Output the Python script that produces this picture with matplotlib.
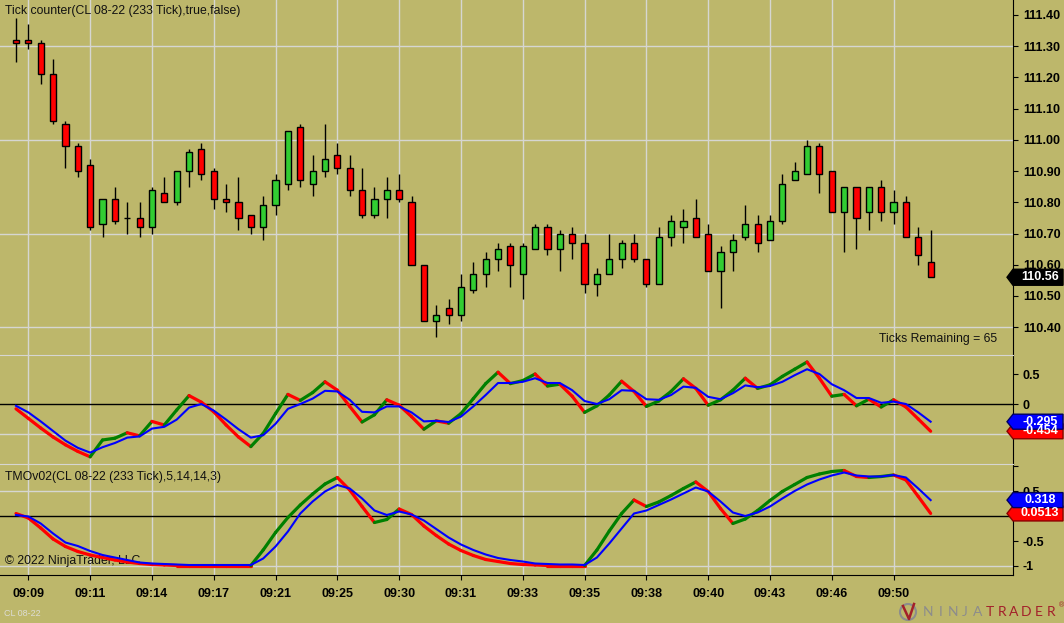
import numpy as np
import matplotlib
matplotlib.use('Agg')
import matplotlib.pyplot as plt
from matplotlib.patches import Polygon, Ellipse
from matplotlib.lines import Line2D

plt.rcParams['font.family'] = ['Liberation Sans', 'DejaVu Sans']

# +++ data +++

opens  = [111.32, 111.32, 111.31, 111.21, 111.05, 110.98, 110.92, 110.73, 110.81, 110.75,
          110.75, 110.72, 110.83, 110.80, 110.90, 110.97, 110.90, 110.81, 110.80, 110.76,
          110.72, 110.79, 110.86, 111.04, 110.86, 110.90, 110.95, 110.91, 110.84, 110.76,
          110.81, 110.84, 110.80, 110.60, 110.42, 110.46, 110.44, 110.52, 110.57, 110.62,
          110.66, 110.57, 110.65, 110.72, 110.65, 110.70, 110.67, 110.54, 110.57, 110.62,
          110.67, 110.62, 110.54, 110.69, 110.72, 110.75, 110.70, 110.58, 110.64, 110.69,
          110.73, 110.68, 110.74, 110.87, 110.89, 110.98, 110.90, 110.77, 110.85, 110.77,
          110.85, 110.77, 110.80, 110.69, 110.61]
closes = [111.31, 111.31, 111.21, 111.06, 110.98, 110.90, 110.72, 110.81, 110.74, 110.75,
          110.72, 110.84, 110.80, 110.90, 110.96, 110.89, 110.81, 110.80, 110.75, 110.72,
          110.79, 110.87, 111.03, 110.87, 110.90, 110.94, 110.91, 110.84, 110.76, 110.81,
          110.84, 110.81, 110.60, 110.42, 110.44, 110.44, 110.53, 110.57, 110.62, 110.65,
          110.60, 110.66, 110.72, 110.65, 110.70, 110.67, 110.54, 110.57, 110.62, 110.67,
          110.62, 110.54, 110.69, 110.74, 110.74, 110.69, 110.58, 110.64, 110.68, 110.73,
          110.67, 110.74, 110.86, 110.90, 110.98, 110.89, 110.77, 110.85, 110.75, 110.85,
          110.77, 110.80, 110.69, 110.63, 110.56]
highs  = [111.39, 111.37, 111.32, 111.26, 111.06, 110.99, 110.94, 110.81, 110.85, 110.80,
          110.80, 110.85, 110.88, 110.90, 110.97, 110.99, 110.91, 110.86, 110.88, 110.76,
          110.82, 110.89, 111.03, 111.05, 110.95, 111.05, 110.99, 110.95, 110.91, 110.85,
          110.88, 110.89, 110.82, 110.60, 110.47, 110.49, 110.57, 110.61, 110.64, 110.67,
          110.67, 110.67, 110.73, 110.73, 110.71, 110.72, 110.70, 110.59, 110.70, 110.68,
          110.70, 110.62, 110.72, 110.76, 110.78, 110.81, 110.73, 110.66, 110.70, 110.79,
          110.76, 110.76, 110.89, 110.93, 111.00, 110.99, 110.90, 110.85, 110.85, 110.85,
          110.87, 110.84, 110.82, 110.72, 110.71]
lows   = [111.25, 111.29, 111.18, 111.05, 110.91, 110.88, 110.71, 110.69, 110.73, 110.70,
          110.69, 110.70, 110.80, 110.79, 110.85, 110.87, 110.78, 110.77, 110.71, 110.70,
          110.68, 110.76, 110.84, 110.85, 110.82, 110.88, 110.89, 110.82, 110.75, 110.75,
          110.75, 110.80, 110.60, 110.42, 110.37, 110.41, 110.42, 110.51, 110.53, 110.58,
          110.53, 110.49, 110.65, 110.63, 110.58, 110.62, 110.51, 110.50, 110.57, 110.59,
          110.61, 110.53, 110.54, 110.66, 110.67, 110.69, 110.58, 110.46, 110.58, 110.68,
          110.64, 110.68, 110.73, 110.87, 110.89, 110.83, 110.77, 110.64, 110.65, 110.71,
          110.74, 110.73, 110.69, 110.60, 110.56]

tmo1Main   = [-0.08, -0.24, -0.40, -0.55, -0.68, -0.79, -0.88, -0.60, -0.57, -0.48,
              -0.53, -0.29, -0.35, -0.10, 0.14, 0.03, -0.13, -0.35, -0.55, -0.71,
              -0.49, -0.16, 0.16, 0.06, 0.19, 0.37, 0.23, -0.04, -0.30, -0.18,
              0.07, -0.02, -0.21, -0.42, -0.28, -0.32, -0.16, 0.09, 0.34, 0.53,
              0.34, 0.39, 0.50, 0.30, 0.33, 0.13, -0.14, -0.03, 0.15, 0.38,
              0.21, -0.04, 0.05, 0.21, 0.42, 0.26, -0.02, 0.07, 0.23, 0.43,
              0.26, 0.32, 0.46, 0.58, 0.70, 0.43, 0.13, 0.16, -0.03, 0.08,
              -0.05, 0.07, -0.05, -0.25, -0.454]
tmo1Signal = [-0.03, -0.14, -0.29, -0.45, -0.61, -0.73, -0.81, -0.72, -0.65, -0.56,
              -0.54, -0.41, -0.38, -0.26, -0.06, 0.00, -0.11, -0.26, -0.42, -0.56,
              -0.52, -0.33, -0.08, 0.00, 0.09, 0.22, 0.21, 0.07, -0.13, -0.14,
              -0.04, -0.04, -0.14, -0.29, -0.28, -0.30, -0.21, -0.04, 0.15, 0.35,
              0.35, 0.37, 0.43, 0.35, 0.35, 0.23, 0.05, 0.00, 0.08, 0.23,
              0.22, 0.08, 0.07, 0.15, 0.29, 0.27, 0.12, 0.08, 0.18, 0.31,
              0.28, 0.30, 0.37, 0.48, 0.58, 0.50, 0.33, 0.23, 0.10, 0.10,
              0.02, 0.04, 0.00, -0.14, -0.295]
tmo2Main   = [0.05, -0.04, -0.24, -0.46, -0.61, -0.71, -0.78, -0.83, -0.88, -0.92,
              -0.95, -0.97, -0.98, -0.99, -0.99, -0.99, -0.99, -0.99, -0.99, -0.99,
              -0.68, -0.33, -0.03, 0.22, 0.44, 0.64, 0.77, 0.52, 0.19, -0.13,
              -0.07, 0.14, 0.03, -0.20, -0.39, -0.56, -0.69, -0.79, -0.87, -0.91,
              -0.95, -0.97, -0.98, -0.99, -0.99, -0.99, -0.99, -0.68, -0.30, 0.05,
              0.32, 0.19, 0.28, 0.41, 0.55, 0.68, 0.49, 0.15, -0.15, -0.06,
              0.11, 0.31, 0.49, 0.63, 0.77, 0.84, 0.89, 0.91, 0.79, 0.77,
              0.79, 0.82, 0.72, 0.39, 0.0513]
tmo2Signal = [0.02, -0.01, -0.15, -0.35, -0.53, -0.60, -0.70, -0.78, -0.83, -0.88,
              -0.93, -0.95, -0.96, -0.97, -0.98, -0.98, -0.98, -0.98, -0.98, -0.98,
              -0.85, -0.61, -0.31, 0.05, 0.29, 0.49, 0.62, 0.55, 0.35, 0.11,
              0.02, 0.09, 0.03, -0.09, -0.26, -0.43, -0.57, -0.68, -0.77, -0.84,
              -0.88, -0.91, -0.95, -0.96, -0.97, -0.97, -0.98, -0.83, -0.55, -0.25,
              0.05, 0.11, 0.22, 0.33, 0.45, 0.57, 0.49, 0.29, 0.07, 0.00,
              0.07, 0.19, 0.35, 0.50, 0.63, 0.73, 0.81, 0.87, 0.81, 0.79,
              0.79, 0.82, 0.77, 0.55, 0.318]

timeLabels = ['09:09', '09:11', '09:14', '09:17', '09:21', '09:25', '09:30', '09:31',
              '09:33', '09:35', '09:38', '09:40', '09:43', '09:46', '09:50']
labelBars  = list(range(1, 72, 5))

# +++ layout +++

bgColor   = '#BDB76B'
gridColor = '#D6D6D2'
figW, figH = 1064, 623

fig = plt.figure(figsize=(figW / 100, figH / 100), dpi=100)
fig.patch.set_facecolor(bgColor)

def pxAxes(top, bottom):
  return fig.add_axes([0, 1 - bottom / figH, 1013 / figW, (bottom - top) / figH])

axPrice = pxAxes(0, 355)
axTmo1  = pxAxes(355, 464)
axTmo2  = pxAxes(464, 575)

xIdx = np.arange(len(opens))
xMin = -16 / 12.36
xMax = (1013 - 16) / 12.36

for ax in [axPrice, axTmo1, axTmo2]:
  ax.set_facecolor(bgColor)
  ax.set_xlim(xMin, xMax)
  ax.set_xticks(labelBars)
  ax.grid(axis='x', color=gridColor, linewidth=1)
  ax.set_axisbelow(True)
  for s in ['left', 'top', 'bottom']:
    ax.spines[s].set_visible(False)
  ax.spines['right'].set_color('black')
  ax.yaxis.tick_right()
  ax.tick_params(axis='y', direction='out', length=3.6, width=0.8, pad=3.5,
                 labelsize=9, colors='black')
  ax.tick_params(axis='x', bottom=False, labelbottom=False)

# panel separators
for ax in [axTmo1, axTmo2]:
  ax.spines['top'].set_visible(True)
  ax.spines['top'].set_color(gridColor)

# +++ price panel +++

axPrice.set_ylim(110.311, 111.448)
priceTicks = np.round(np.arange(110.40, 111.41, 0.10), 2)
axPrice.set_yticks(priceTicks)
axPrice.set_yticklabels(['%.2f' % p for p in priceTicks], fontweight='bold')
for g in [111.30, 111.00, 110.70, 110.40]:
  axPrice.axhline(g, color=gridColor, linewidth=1, zorder=0.5)

o = np.array(opens)
c = np.array(closes)
candleColors = np.where(c > o, '#32CD32', '#FF0000')
axPrice.vlines(xIdx, lows, highs, color='black', linewidth=1, zorder=2)
axPrice.bar(xIdx, np.abs(c - o), bottom=np.minimum(o, c), width=0.5,
            color=candleColors, edgecolor='black', linewidth=1, zorder=3)

axPrice.text(5 / 1013, 1 - 11 / 355, 'Tick counter(CL 08-22 (233 Tick),true,false)',
             transform=axPrice.transAxes, fontsize=8.8, va='center', ha='left', color='#111111')
axPrice.text(879 / 1013, 1 - 339 / 355, 'Ticks Remaining = 65',
             transform=axPrice.transAxes, fontsize=8.8, va='center', ha='left', color='#111111')

# +++ oscillator panels +++

def drawTmo(ax, mainVals, sigVals):
  for i in range(1, len(mainVals)):
    col = '#008000' if mainVals[i] > mainVals[i - 1] else '#FF0000'
    ax.plot([xIdx[i - 1], xIdx[i]], [mainVals[i - 1], mainVals[i]], '-', color=col,
            linewidth=2.3, solid_capstyle='round', zorder=3)
  ax.plot(xIdx, sigVals, '-', color='#0000FF', linewidth=1.5, zorder=4)
  ax.axhline(0, color='black', linewidth=1, zorder=2)

# labels hidden behind the value tags are left blank
axTmo1.set_ylim(-1.0, 0.817)
axTmo1.set_yticks([-0.5, 0, 0.5])
axTmo1.set_yticklabels(['', '0', '0.5'], fontweight='bold')
axTmo1.axhline(-0.5, color=gridColor, linewidth=1, zorder=0.5)
drawTmo(axTmo1, tmo1Main, tmo1Signal)

axTmo2.set_ylim(-1.18, 1.04)
axTmo2.set_yticks([-1, -0.5, 0, 0.5, 1])
axTmo2.set_yticklabels(['-1', '-0.5', '', '0.5', ''], fontweight='bold')
for g in [0.5, -1.0]:
  axTmo2.axhline(g, color=gridColor, linewidth=1, zorder=0.5)
drawTmo(axTmo2, tmo2Main, tmo2Signal)

axTmo2.text(5 / 1013, 1 - 13 / 111, 'TMOv02(CL 08-22 (233 Tick),5,14,14,3)',
            transform=axTmo2.transAxes, fontsize=8.8, va='center', ha='left', color='#111111')
axTmo2.text(5 / 1013, 1 - 97 / 111, '\u00a9 2022 NinjaTrader, LLC',
            transform=axTmo2.transAxes, fontsize=8.8, va='center', ha='left', color='#111111',
            zorder=1)

# x axis on bottom panel
axTmo2.spines['bottom'].set_visible(True)
axTmo2.spines['bottom'].set_color('black')
axTmo2.tick_params(axis='x', bottom=True, labelbottom=True, direction='out',
                   length=3.6, width=0.8, pad=6, labelsize=9, colors='black')
axTmo2.set_xticklabels(timeLabels, fontweight='bold')

# +++ value tags on right axis +++

def valueTag(ax, value, label, face, edge, h=15):
  yc = ax.transData.transform((0, value))[1]
  pts = [(1007, yc), (1013, yc + h / 2), (1063, yc + h / 2), (1063, yc - h / 2), (1013, yc - h / 2)]
  pts = [(px / figW, py / figH) for px, py in pts]
  fig.add_artist(Polygon(pts, closed=True, facecolor=face, edgecolor=edge, linewidth=1,
                         transform=fig.transFigure, zorder=5))
  fig.text(1040 / figW, yc / figH, label, color='white', fontsize=9, fontweight='bold',
           ha='center', va='center', zorder=6)

valueTag(axPrice, closes[-1], '%.2f' % closes[-1], 'black', 'black', h=16)
valueTag(axTmo1, tmo1Main[-1], '%.3f' % tmo1Main[-1], '#FF0000', '#8B0000')
valueTag(axTmo1, tmo1Signal[-1], '%.3f' % tmo1Signal[-1], '#0000FF', '#000060')
valueTag(axTmo2, tmo2Main[-1], '%.4f' % tmo2Main[-1], '#FF0000', '#8B0000')
valueTag(axTmo2, tmo2Signal[-1], '%.3f' % tmo2Signal[-1], '#0000FF', '#000060')

# +++ footer +++

fig.text(4 / figW, 1 - 613 / figH, 'CL 08-22', color='#DCDCD4', fontsize=6.5,
         ha='left', va='center')

logoLetters = 'NINJATRADER'
for k, ch in enumerate(logoLetters):
  col = '#8C8C8C' if k < 5 else '#A3202A'
  fig.text((928 + k * 12.3) / figW, 1 - 612 / figH, ch, color=col, fontsize=10,
           ha='center', va='center', family='Lato')
fig.text(1059 / figW, 1 - 606 / figH, '\u00ae', color='#A3202A', fontsize=5,
         ha='left', va='center')
fig.add_artist(Ellipse((908 / figW, 1 - 612 / figH), 16 / figW, 16 / figH,
                       facecolor='none', edgecolor='#8C8C8C', linewidth=1.5,
                       transform=fig.transFigure))
fig.add_artist(Line2D([903 / figW, 909 / figW, 914 / figW],
                      [1 - 606 / figH, 1 - 619 / figH, 1 - 604 / figH],
                      color='#A3202A', linewidth=1.8, transform=fig.transFigure))

fig.savefig('out.png', dpi=100, facecolor=bgColor)
